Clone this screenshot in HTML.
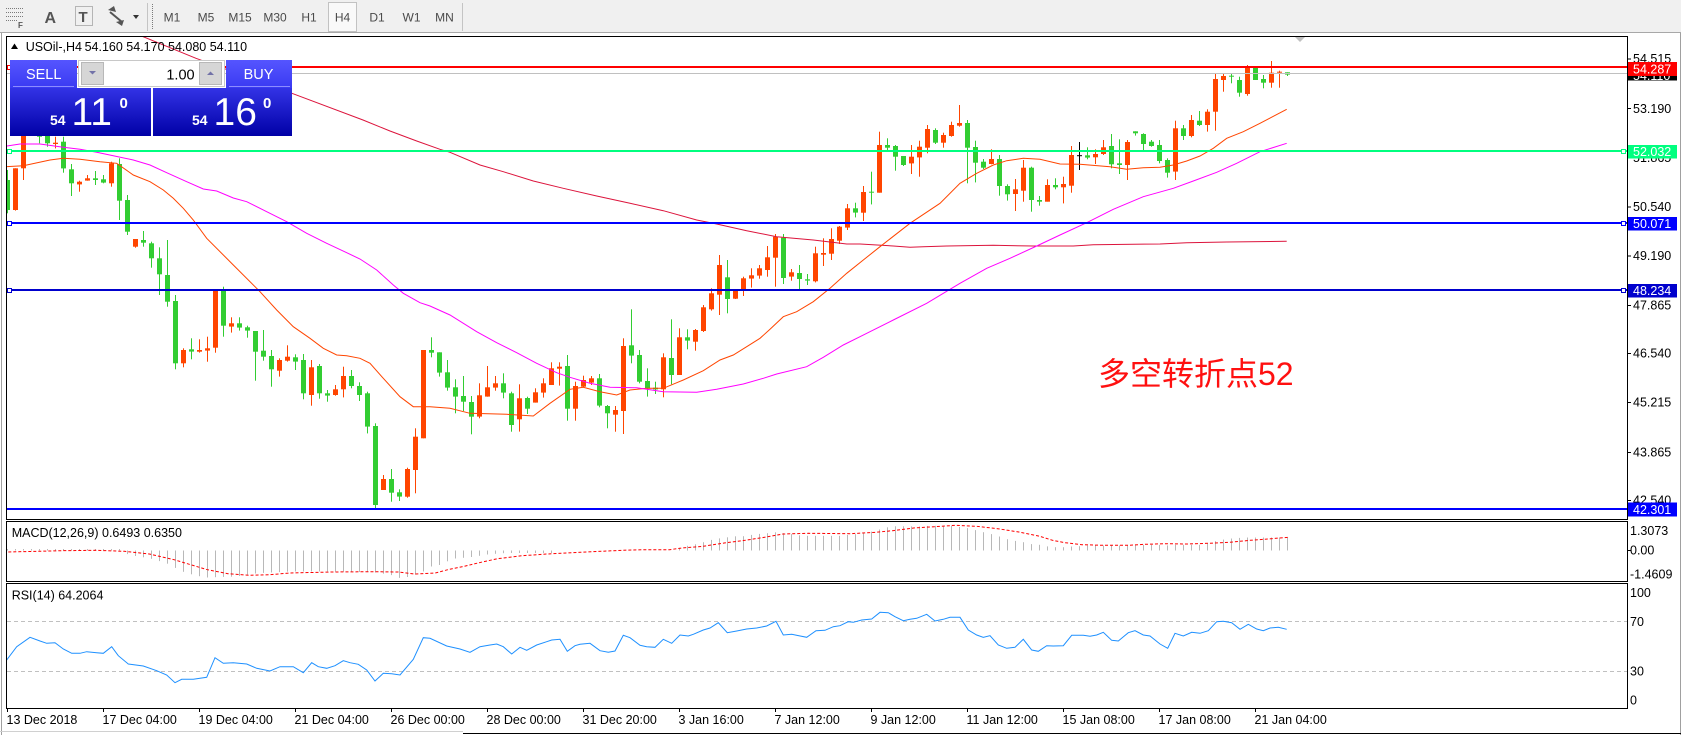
<!DOCTYPE html>
<html><head><meta charset="utf-8">
<style>
html,body{margin:0;padding:0;background:#fff;}
body{width:1681px;height:735px;overflow:hidden;position:relative;}
svg{position:absolute;left:0;top:0;}
</style></head><body>
<svg id="s" width="1681" height="735" viewBox="0 0 1681 735" xmlns="http://www.w3.org/2000/svg" font-family="'Liberation Sans', Arial, sans-serif" font-size="12.5">
<defs>
<linearGradient id="gb" x1="0" y1="0" x2="0" y2="1"><stop offset="0" stop-color="#3333e6"/><stop offset="1" stop-color="#0000a6"/></linearGradient>
<linearGradient id="gt" x1="0" y1="0" x2="0" y2="1"><stop offset="0" stop-color="#5555ff"/><stop offset="1" stop-color="#3a3af2"/></linearGradient>
<clipPath id="cm"><rect x="7" y="37" width="1620" height="482"/></clipPath>
<clipPath id="cd"><rect x="7" y="522" width="1620" height="59"/></clipPath>
<clipPath id="cr"><rect x="7" y="584" width="1620" height="124"/></clipPath>
</defs>
<rect x="0" y="0" width="1681" height="735" fill="#fff"/>
<!-- toolbar -->
<rect x="0" y="0" width="1681" height="33" fill="#f0f0f0"/>
<line x1="0" y1="32.5" x2="1681" y2="32.5" stroke="#a8a8a8"/>
<g stroke="#7a7a7a" stroke-dasharray="1,1">
<line x1="6" y1="8.5" x2="24" y2="8.5"/><line x1="6" y1="12.5" x2="24" y2="12.5"/><line x1="6" y1="16.5" x2="24" y2="16.5"/><line x1="6" y1="20.5" x2="18" y2="20.5"/>
<rect x="75.5" y="6.5" width="17" height="19" fill="none"/>
<line x1="152.5" y1="4" x2="152.5" y2="29"/>
</g>
<text x="18" y="28" font-size="8" font-weight="bold" fill="#555">F</text>
<text x="44.5" y="23" font-size="16" font-weight="bold" fill="#555">A</text>
<text x="78.5" y="22" font-size="15" font-weight="bold" fill="#555">T</text>
<polygon points="108,10 114,6 116,12" fill="#555"/><polygon points="116,22 122,26 124,20" fill="#555"/>
<line x1="110" y1="12" x2="122" y2="22" stroke="#555" stroke-width="2"/>
<polygon points="133,15 139,15 136,19" fill="#333"/>
<line x1="147.5" y1="3" x2="147.5" y2="31" stroke="#c4c4c4"/>
<line x1="462.5" y1="3" x2="462.5" y2="31" stroke="#c4c4c4"/>
<rect x="328.5" y="2.5" width="28" height="29" fill="#f9f9f9" stroke="#c2c2c2"/>
<g fill="#4a4a4a" font-size="12" text-anchor="middle">
<text x="172" y="21.5">M1</text><text x="206" y="21.5">M5</text><text x="240" y="21.5">M15</text><text x="275" y="21.5">M30</text><text x="309" y="21.5">H1</text><text x="342.5" y="21.5">H4</text><text x="377" y="21.5">D1</text><text x="411.5" y="21.5">W1</text><text x="444.5" y="21.5">MN</text>
</g>
<!-- window borders -->
<line x1="1.5" y1="33" x2="1.5" y2="735" stroke="#a0a0a0"/>
<line x1="1680.5" y1="33" x2="1680.5" y2="735" stroke="#a0a0a0"/>
<line x1="0" y1="731.5" x2="463" y2="731.5" stroke="#d0d0d0"/>
<line x1="463" y1="733.5" x2="1681" y2="733.5" stroke="#000"/>

<g id="dyn"></g>

<!-- frames -->
<g fill="none" stroke="#000">
<rect x="6.5" y="36.5" width="1621" height="483"/>
<rect x="6.5" y="521.5" width="1621" height="60"/>
<rect x="6.5" y="583.5" width="1621" height="125"/>
</g>
<polygon points="1295,37 1305,37 1300,42" fill="#c0c0c0"/>

<!-- price axis -->
<g stroke="#000">
<line x1="1627" y1="59" x2="1631" y2="59"/><line x1="1627" y1="108.5" x2="1631" y2="108.5"/><line x1="1627" y1="158" x2="1631" y2="158"/><line x1="1627" y1="207" x2="1631" y2="207"/><line x1="1627" y1="256" x2="1631" y2="256"/><line x1="1627" y1="305.5" x2="1631" y2="305.5"/><line x1="1627" y1="353.5" x2="1631" y2="353.5"/><line x1="1627" y1="402.5" x2="1631" y2="402.5"/><line x1="1627" y1="452.5" x2="1631" y2="452.5"/><line x1="1627" y1="500.5" x2="1631" y2="500.5"/>
<line x1="1627" y1="550.5" x2="1631" y2="550.5"/>
</g>
<g fill="#000">
<text x="1633" y="62.8">54.515</text>
<text x="1633" y="112.8">53.190</text>
<text x="1633" y="162.2">51.865</text>
<text x="1633" y="211.2">50.540</text>
<text x="1633" y="260.2">49.190</text>
<text x="1633" y="309.5">47.865</text>
<text x="1633" y="357.5">46.540</text>
<text x="1633" y="406.5">45.215</text>
<text x="1633" y="456.5">43.865</text>
<text x="1633" y="504.5">42.540</text>
<text x="1630" y="535.2">1.3073</text>
<text x="1630" y="554.5">0.00</text>
<text x="1630" y="578.5">-1.4609</text>
<text x="1630" y="597.2">100</text>
<text x="1630" y="626.2">70</text>
<text x="1630" y="675.5">30</text>
<text x="1630" y="704.5">0</text>
</g>
<!-- level label boxes -->
<rect x="1628" y="71.5" width="49" height="9" fill="#000"/>
<text x="1633" y="80" fill="#fff">54.110</text>
<rect x="1628" y="62" width="49" height="14" fill="#ff0000"/>
<text x="1633" y="73.5" fill="#fff">54.287</text>
<rect x="1628" y="145" width="49" height="13.5" fill="#00ff7f"/>
<text x="1633" y="156" fill="#fff">52.032</text>
<rect x="1628" y="217" width="49" height="13.5" fill="#0000ff"/>
<text x="1633" y="228" fill="#fff">50.071</text>
<rect x="1628" y="284" width="49" height="13.5" fill="#0000cd"/>
<text x="1633" y="295" fill="#fff">48.234</text>
<rect x="1628" y="502.5" width="49" height="14" fill="#0000ff"/>
<text x="1633" y="514" fill="#fff">42.301</text>

<!-- time axis -->
<g id="taxis" fill="#000"></g>

<!-- indicator labels -->
<text x="11.7" y="537.2" fill="#000">MACD(12,26,9) 0.6493 0.6350</text>
<text x="11.7" y="599.5" fill="#000">RSI(14) 64.2064</text>

<!-- header -->
<polygon points="11,49 18,49 14.5,43.5" fill="#000"/>
<text x="25.7" y="51" fill="#000">USOil-,H4</text>
<text x="84.6" y="51" fill="#000">54.160 54.170 54.080 54.110</text>

<!-- trade panel -->
<rect x="10" y="60" width="67" height="28" fill="url(#gt)"/>
<line x1="13" y1="86.5" x2="74" y2="86.5" stroke="#8c8cff"/>
<text x="43.7" y="78.8" fill="#fff" font-size="14.5" text-anchor="middle">SELL</text>
<rect x="78.5" y="60.5" width="146" height="26" fill="#fff" stroke="#c8c8c8"/>
<rect x="81.5" y="62.5" width="22" height="22" fill="#d6d6d6" stroke="#b8b8b8"/>
<polygon points="89,71 96,71 92.5,74.5" fill="#7272a8"/>
<rect x="199.5" y="62.5" width="22" height="22" fill="#d6d6d6" stroke="#b8b8b8"/>
<polygon points="207,75 214,75 210.5,71.5" fill="#7272a8"/>
<text x="194.6" y="79.3" text-anchor="end" font-size="14.5" fill="#000">1.00</text>
<rect x="226" y="60" width="66" height="28" fill="url(#gt)"/>
<line x1="229" y1="86.5" x2="290" y2="86.5" stroke="#8c8cff"/>
<text x="258.5" y="78.8" fill="#fff" font-size="14.5" text-anchor="middle">BUY</text>
<rect x="10" y="88" width="141" height="48" fill="url(#gb)"/>
<rect x="153" y="88" width="139" height="48" fill="url(#gb)"/>
<g fill="#fff">
<text x="50" y="125" font-size="14" font-weight="bold">54</text>
<text x="71.5" y="125" font-size="39">11</text>
<text x="119.5" y="108" font-size="15" font-weight="bold">0</text>
<text x="192" y="125" font-size="14" font-weight="bold">54</text>
<text x="213.5" y="125" font-size="39">16</text>
<text x="263" y="108" font-size="15" font-weight="bold">0</text>
</g>

<!-- annotation -->
<text x="1098" y="385" font-size="32" fill="#ff1010" font-family="'Liberation Sans','Noto Sans CJK SC','WenQuanYi Zen Hei',sans-serif">多空转折点52</text>
</svg>
<script>
(function(){
var NS="http://www.w3.org/2000/svg";
var dyn=document.getElementById('dyn');
function el(tag,attrs,parent){var e=document.createElementNS(NS,tag);for(var k in attrs)e.setAttribute(k,attrs[k]);(parent||dyn).appendChild(e);return e;}
var gMain=el('g',{'clip-path':'url(#cm)'});
var gMacd=el('g',{'clip-path':'url(#cd)'});
var gRsi=el('g',{'clip-path':'url(#cr)'});

// candles: [color, wickTop, bodyTop, bodyBottom, wickBottom] in zoomed units
var A=[
['g',150,180,270,280],['o',145,145,270,272],['o',-40,-30,145,180],['o',-60,-50,-30,-20],['g',10,20,50,70],
['g',20,30,70,80],['o',50,68,72,85],['g',50,65,145,158],['g',132,148,190,228],['o',182,185,193,215],
['o',165,175,182,182],['g',153,175,180,195],['g',165,178,188,190],['o',125,130,190,200],['g',115,132,242,300],
['g',225,240,335,345],['o',357,357,380,383],['g',333,360,368,380],['g',365,370,415,443],['g',382,415,463,525],
['g',360,465,545,560],['g',525,543,730,748],['o',685,690,730,742],['g',655,688,695,718],['o',658,690,695,698],
['o',650,685,692,725],['o',512,512,683,698],['g',500,513,617,650],['o',592,610,620,638],['g',592,610,623,632],
['g',617,622,632,653],['g',633,633,695,782],['g',630,692,710,722],['g',690,708,748,800],['o',715,720,752,770],
['o',676,710,722,725],['g',703,712,725,750],['g',702,720,820,838],['o',720,742,825,857],['g',732,738,820,836],
['g',810,820,827,845],['o',795,808,825,827],['o',740,768,808,832],['g',750,768,798,805],['g',787,798,825,843],
['g',815,820,920,940],['g',910,918,1155,1165],['o',1065,1077,1110,1110],['g',1047,1077,1118,1145],['g',1108,1117,1130,1143],
['o',1043,1047,1130,1133],['o',925,950,1050,1120],['o',690,690,955,955]];
var B=[
['g',652,690,698,712],['g',697,697,758,770],['g',720,757,803,812],['g',778,802,830,880],['g',768,828,845,873],
['g',828,846,890,943],['o',790,826,890,895],['o',738,802,830,830],['o',768,790,803,812],['g',760,790,818,835],
['g',815,820,915,935],['o',793,835,898,935],['g',830,834,866,882],['o',805,817,848,848],['o',775,790,818,833],
['o',727,745,795,795],['o',727,740,746,797],['g',705,738,866,902],['o',785,798,866,902],['o',767,780,800,802],
['o',768,775,788,795],['g',762,775,857,862],['g',855,858,880,925],['o',858,870,884,935],['o',655,678,873,942],
['g',568,676,707,730],['g',690,705,785,790],['g',745,783,806,830],['g',785,803,808,822],['o',700,712,808,832],
['g',598,714,765,793],['o',625,652,765,765],['g',628,652,662,688],['o',627,630,665,692],['o',555,562,633,636],
['o',505,520,568,572],['o',405,435,524,585],['g',420,472,537,580],['o',510,512,536,537],['o',470,475,513,528],
['o',445,466,476,503],['o',435,445,467,476],['o',378,412,450,470],['o',342,350,413,500],['g',342,353,474,492],
['o',447,457,470,482],['g',435,459,477,507],['g',462,478,482,495],['o',380,400,484,487],['o',355,399,404,438],
['o',325,357,401,420],['o',318,320,362,372],['o',252,265,323,330],['g',248,265,278,292],['o',198,216,278,303]];
var C=[
['g',365,425,428,463],['o',245,285,428,428],['g',265,285,293,300],['g',285,288,320,362],['g',318,318,345,348],
['o',285,320,340,372],['o',272,290,322,380],['o',225,237,293,310],['g',235,240,278,282],['o',248,255,278,293],
['o',215,225,258,260],['o',165,219,227,230],['g',210,219,293,400],['g',272,291,338,397],['g',327,335,353,357],
['o',298,327,342,343],['g',315,327,408,437],['g',403,408,433,452],['o',387,418,432,483],['o',330,353,422,455],
['g',350,353,450,485],['g',438,450,455,467],['o',388,405,455,455],['g',385,405,412,418],['o',380,402,412,460],
['o',288,315,407,428],['k',276,314,317,360],['g',292,316,323,328],['o',298,312,322,342],['o',270,292,312,315],
['g',252,288,343,355],['g',268,340,345,372],['o',270,276,345,390],['g',244,244,250,257],['g',250,252,282,300],
['g',270,275,288,290],['g',270,285,333,340],['g',325,330,368,383],['o',212,235,365,390],['g',225,235,258,270],
['o',195,210,258,262],['g',183,212,225,228],['o',178,185,225,245],['o',72,87,185,242],['o',72,78,90,125],
['g',72,77,80,100],['g',80,90,128,140],['o',45,53,132,137],['g',53,53,90,90],['g',75,87,98,115],
['o',33,68,98,113],['o',62,65,68,113],['g',67,67,74,78]];
var cols={o:'#ff4500',g:'#32cd32',k:'#000000'};
function drawSeg(arr,off,start){
 for(var j=0;j<arr.length;j++){
  var c=arr[j],i=start+j,cx=7+8*i,col=cols[c[0]];
  var wt=off+c[1]/3,bt=off+c[2]/3,bb=off+c[3]/3,wb=off+c[4]/3;
  el('rect',{x:cx,y:wt.toFixed(1),width:1,height:Math.max(1,wb-wt).toFixed(1),fill:col},gMain);
  if(c[0]==='k'){var my=(bt+bb)/2;el('rect',{x:cx-2,y:my.toFixed(1),width:5,height:1,fill:col},gMain);}
  else el('rect',{x:cx-2,y:bt.toFixed(1),width:5,height:Math.max(1,bb-bt).toFixed(1),fill:col},gMain);
 }
}
drawSeg(A,120,0);drawSeg(B,120,53);drawSeg(C,50,108);

function pl(pts,color,parent,extra){
 var s=pts.map(function(p){return p[0]+','+p[1];}).join(' ');
 var a={points:s,fill:'none',stroke:color,'stroke-width':1};
 if(extra)for(var k in extra)a[k]=extra[k];
 el('polyline',a,parent);
}
var crimson=[[100,18],[139,35],[196,58.3],[294.6,94.3],[363,120],[390,131],[416.7,141],[440,149.3],[450,152.3],[480,165],[503.3,171.7],[533.3,181],[563.3,188.3],[596.7,196],[630,203.3],[663.3,210.7],[696.7,220],[716.7,224],[746.7,230.7],[776.7,236.7],[813.3,240],[846.7,244],[860,244],[893.3,246],[910,247.3],[923.3,246.7],[946.7,246],[993.3,245.3],[1033.3,246],[1073.3,246],[1093.3,244.7],[1160,244],[1186.7,242.7],[1226.7,242],[1286.7,241.3]];
var orange=[[6.7,166.7],[23.3,165.7],[50,160],[63.3,158.3],[80,159.3],[100,161.7],[116.7,163.3],[133.3,175],[150,181.7],[163.3,190],[173.3,198.3],[183.3,208.3],[193.3,220],[206.7,238.3],[233.3,265],[260,291.7],[276.7,310],[293.3,326.7],[310,338.3],[323.3,348.3],[336.7,355],[346.7,355.7],[360,358.3],[370,363.3],[383.3,378.3],[400,396.7],[413.3,406.7],[430,406.7],[450,408.3],[470,413.3],[506.7,414.3],[533.3,416],[550,403.3],[570,389.3],[583.3,387.3],[600,391.7],[616.7,395],[630,390],[646.7,388.3],[663.3,388.3],[683.3,380],[703.3,370.7],[720,360],[733.3,355],[746.7,346.7],[760,338.3],[770,329.3],[783.3,316.7],[796.7,311.7],[813.3,301.7],[830,288.3],[846.7,273.3],[863.3,260],[880,246.7],[910,223.3],[940,203.3],[960,183.3],[976.7,173.3],[993.3,165],[1006.7,160.7],[1023.3,158.3],[1040,159.3],[1060,164],[1080,164.3],[1110,166.7],[1126.7,169.3],[1143.3,167.7],[1160,167.3],[1173.3,165],[1186.7,161],[1200,156],[1213.3,148.3],[1226.7,138.3],[1243.3,131.7],[1260,123.3],[1286.7,109.3]];
var magenta=[[6.7,146],[20,144],[40,144],[63.3,147.3],[80,149.3],[96.7,152.3],[113.3,155.7],[133.3,160],[150,165],[166.7,172.7],[186.7,181.7],[203.3,189],[216.7,191],[233.3,198],[246.7,201.7],[266.7,211.7],[286.7,221.7],[306.7,233.3],[326.7,243.3],[346.7,252.7],[360,259],[376.7,270],[393.3,285],[403.3,293.3],[420,302.7],[430,306],[450,315],[476.7,331.7],[496.7,342.7],[516.7,352.7],[536.7,363.3],[556.7,372.7],[570,377.3],[590,383.3],[610,387.3],[636.7,387.7],[663.3,391.7],[696.7,392.3],[716.7,389.3],[743.3,384],[763.3,378.3],[776.7,374],[806.7,366.7],[823.3,357.3],[843.3,345],[860,336.7],[893.3,320],[926.7,303.3],[960,283.3],[986.7,268.3],[1010,258.3],[1036.7,246],[1060,235],[1086.7,222.7],[1113.3,209.3],[1143.3,196.7],[1173.3,188.3],[1193.3,181],[1216.7,172.3],[1236.7,163.3],[1260,151.7],[1286.7,143.3]];
pl(crimson,'#dc143c',gMain);
pl(orange,'#ff4500',gMain);
pl(magenta,'#ff00ff',gMain);

// horizontal levels
el('rect',{x:7,y:73,width:1620,height:1,fill:'#c0c0c0'},gMain);
el('rect',{x:7,y:66,width:1620,height:2,fill:'#ff0000'},gMain);
el('rect',{x:7,y:150,width:1620,height:2,fill:'#00ff7f'},gMain);
el('rect',{x:7,y:222,width:1620,height:2,fill:'#0000ff'},gMain);
el('rect',{x:7,y:289,width:1620,height:2,fill:'#0000cd'},gMain);
el('rect',{x:7,y:508,width:1620,height:2,fill:'#0000ff'},gMain);
function handle(x,y,c){el('rect',{x:x+0.5,y:y-1.5,width:4,height:4,fill:'#fff',stroke:c,'stroke-width':1},gMain);}
handle(7,67,'#ff0000');handle(7,151,'#00ff7f');handle(7,223,'#0000ff');handle(7,290,'#0000cd');
handle(1621,151,'#00ff7f');handle(1621,223,'#0000ff');handle(1621,290,'#0000cd');

function interp(list,x){
 if(x<=list[0][0])return list[0][1];
 for(var k=1;k<list.length;k++){if(x<=list[k][0]){var a=list[k-1],b=list[k];return a[1]+(b[1]-a[1])*(x-a[0])/(b[0]-a[0]);}}
 return list[list.length-1][1];
}
// MACD histogram
var H=[[7,1.5],[120,1.5],[128,-4.3],[150,-8],[166,-12.7],[182,-21],[195,-25],[207,-27],[236,-26],[257,-22.7],[290,-21],[330,-21],[373,-21.7],[390,-24.3],[400,-27.7],[410,-26],[423,-21],[431,-16],[440,-14.3],[448,-10.3],[456,-7.7],[468,-7],[481,-5],[489,-3.7],[506,-2.5],[551,-2.5],[560,0],[648,0],[672,0.5],[680,3],[688,5],[695.6,6.3],[703,8.3],[711.5,10.7],[720,12.3],[727.5,13.3],[735.5,14.3],[743,14.3],[751.5,15.7],[760,16.7],[767.5,17.3],[775.5,18.3],[783,17.3],[791.5,16.3],[800,15],[807.5,14.7],[840,14.7],[848,15.7],[855.5,16.3],[863,18],[871.5,19],[880,21.3],[887.5,23.3],[895.5,24.3],[920,24],[928,24.7],[951,24.7],[960,23.3],[967.5,22.3],[975.5,20.3],[983,18.3],[991.5,16.3],[999,14],[1007,11.3],[1014.6,9.7],[1023,8.3],[1031.4,6.3],[1039,5.7],[1047.4,4],[1054.6,3.3],[1063,3.3],[1071.4,4],[1080,4.3],[1088,5],[1128,5],[1136.6,5.7],[1157.7,5.7],[1166,5],[1174.5,5.7],[1200,5.7],[1208,7.3],[1216.6,9.7],[1225,11.3],[1233.4,12.3],[1246,13],[1288,13]];
var z0=550.5;
for(var i=0;i<=160;i++){
 var x=7+8*i,h=interp(H,x);
 if(Math.abs(h)<0.5)continue;
 if(h>0)el('rect',{x:x,y:(z0-h).toFixed(1),width:1,height:h.toFixed(1),fill:'#b8b8b8'},gMacd);
 else el('rect',{x:x,y:z0,width:1,height:(-h).toFixed(1),fill:'#b8b8b8'},gMacd);
}
var SIG=[[8.3,552],[62.2,550.7],[95.4,550.3],[124.4,551.3],[149.3,554],[174.1,559.7],[190.7,564.7],[207.3,569.7],[228,573.7],[248.8,575.3],[269.5,574.7],[290.2,573],[331.7,572],[373.1,571.7],[398,572],[414.6,574],[435.3,573],[447.8,569.7],[464.3,566.3],[480.9,562.3],[497.5,558.7],[522.4,555.7],[547.3,554],[580.4,552.3],[621.9,550.3],[644.2,549.7],[669.5,549.7],[682.1,548],[703.1,546.3],[724.2,543],[745.2,540.3],[766.3,537],[783.1,534],[808.4,533.3],[850.4,533.7],[875.7,532.3],[892.5,530.7],[913.6,528],[934.6,526.7],[955.7,525.3],[976.7,526.3],[997.7,528.7],[1018.8,532],[1039.8,536.3],[1052.5,540.3],[1065.1,542.7],[1082,544.7],[1103,545.3],[1128.2,545.3],[1145.1,544.3],[1166.1,543.7],[1187.1,544],[1208.2,543.3],[1229.2,542.3],[1250.3,540.3],[1271.3,538.7],[1288.2,537.3]];
pl(SIG,'#ff0000',gMacd,{'stroke-dasharray':'3,2'});

// RSI
el('line',{x1:7,y1:621.5,x2:1627,y2:621.5,stroke:'#c0c0c0','stroke-dasharray':'4,3'},gRsi);
el('line',{x1:7,y1:671.5,x2:1627,y2:671.5,stroke:'#c0c0c0','stroke-dasharray':'4,3'},gRsi);
var RSI=[[6.7,660],[16.7,646.7],[30,637.3],[40,641],[46.7,643.3],[55,642.7],[63.3,649],[71.7,653.3],[80,653.3],[86.7,651.7],[96.7,652.7],[103.3,653.3],[111.7,646.7],[118.3,655.7],[128.3,664],[143.3,666],[156.7,670.7],[166.7,675],[175,682.7],[181.7,679.3],[193.3,679.3],[206.7,677.3],[215,657.7],[223.3,663.3],[233.3,662.7],[246.7,664],[256.7,668.3],[270,671],[280,666.7],[293.3,666.7],[303.3,672.7],[311.7,662.7],[318.3,666.7],[326.7,668.3],[335,665.7],[343.3,660.7],[350,662.7],[358.3,664.3],[366.7,670],[375,681],[383.3,673.3],[391.7,673.7],[400,675],[413.3,659.3],[423.3,637.7],[430,638.3],[446.7,646],[460,649],[470,652.3],[480,646.7],[490,645],[496.7,644],[503.3,646.7],[511.7,654],[520,647.3],[526.7,650.3],[536.7,645],[546.7,641.7],[551.7,640],[560,639.3],[567.3,651.3],[575,645.7],[580,644.3],[590,643.3],[600,650.7],[608.3,652.3],[615,651],[623.3,635.3],[630,637.7],[640,645.3],[646.7,646.7],[655,647.3],[663.3,639.3],[671.7,643.3],[680,635],[688.3,636],[693.3,634.3],[703.3,630],[710,628],[718.3,622.7],[727.3,632.7],[736.7,631],[746.7,629],[756.7,628],[766.7,626],[776,621.3],[783.3,635],[791.7,634.3],[806.7,637.3],[816,630.7],[825,630.3],[833.3,626.7],[840,625.7],[848.3,621.7],[853.3,622.3],[861.7,620],[871.7,619],[880,612.3],[888.3,612.7],[895,616.7],[903.3,620.7],[910,619.3],[916.7,618.3],[926.7,614.3],[935,621],[943.3,619.3],[950,617.3],[960,617.3],[968.3,630],[976.7,635],[983.3,637.3],[990,635.7],[998.3,645],[1006.7,648.3],[1015,647.3],[1023.3,639.3],[1031.7,650],[1038.3,651.3],[1046.7,645.7],[1053.3,646],[1063.3,645.7],[1071.7,635.3],[1083.3,635.3],[1090,636.3],[1096.7,635],[1103.3,632.3],[1111.7,640.3],[1118.3,641],[1128.3,632.7],[1135,630.7],[1143.3,635],[1150,636],[1160,644],[1167.7,648.3],[1175,633.3],[1183.3,636],[1191.7,632.3],[1200,633.3],[1208.3,630.7],[1216.7,621.7],[1223.3,621.3],[1231.7,622.7],[1240,629.3],[1248.3,624.3],[1256.7,629],[1263.3,630.7],[1270,628],[1278.3,627.3],[1286.7,629.3]];
pl(RSI,'#1e90ff',gRsi);

// time axis
var ta=document.getElementById('taxis');
var labels=['13 Dec 2018','17 Dec 04:00','19 Dec 04:00','21 Dec 04:00','26 Dec 00:00','28 Dec 00:00','31 Dec 20:00','3 Jan 16:00','7 Jan 12:00','9 Jan 12:00','11 Jan 12:00','15 Jan 08:00','17 Jan 08:00','21 Jan 04:00'];
for(var k=0;k<labels.length;k++){
 var tx=7+96*k;
 el('rect',{x:tx,y:708,width:1,height:4,fill:'#000'},ta);
 var t=el('text',{x:tx-0.5,y:723.8},ta);t.textContent=labels[k];
}
})();
</script>
</body></html>
